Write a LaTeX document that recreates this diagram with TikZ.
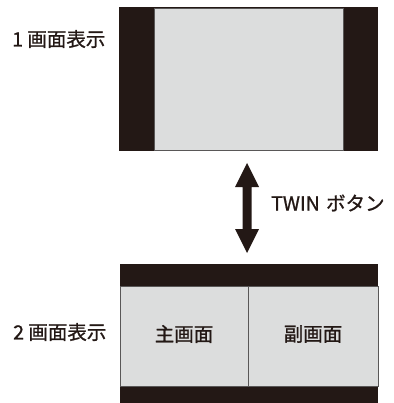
\documentclass[tikz,border=0pt]{standalone}
\usepackage{fontspec}
\setmainfont{Noto Sans CJK JP}
\newfontfamily\medfont{Noto Sans CJK JP}[UprightFeatures={FakeBold=1.0}]
\definecolor{scrblack}{HTML}{231815}
\definecolor{scrgray}{HTML}{DCDDDD}
\definecolor{scredge}{HTML}{595757}
\begin{document}
\begin{tikzpicture}[x=1pt,y=-1pt,
  bar/.style={fill=scrblack,draw=none},
  pane/.style={fill=scrgray,draw=scredge,line width=0.8pt},
  lbl/.style={font=\medfont\fontsize{19.5}{22}\selectfont,text=scrblack,inner sep=0pt}]
\useasboundingbox (0,0) rectangle (393,403);
% top screen (1 画面表示)
\fill[bar] (119,7) rectangle (378,151);
\draw[pane] (154,8) rectangle (343,150);
% bottom screen (2 画面表示)
\fill[bar] (120,264) rectangle (378,403);
\draw[pane] (120,286) rectangle (248,386);
\draw[pane] (248,286) rectangle (378,386);
\node[lbl] (main) at (184,334) {主画面};
\node[lbl] (sub) at (313,334) {副画面};
% labels
\node[lbl,anchor=west] (one) at (12,39) {1 画面表示};
\node[lbl,anchor=west] (two) at (13,332) {2 画面表示};
% arrow
\coordinate (atop) at (247,163);
\coordinate (abot) at (247,253);
\fill[scrblack] (atop) -- (259,187) -- (251.5,187) -- (251.5,229) -- (259,229) -- (abot) -- (235,229) -- (242.5,229) -- (242.5,187) -- (235,187) -- cycle;
\node[lbl,anchor=west] (twin) at (271,203) {TWIN\hspace{0.1em} ボタン};
\end{tikzpicture}
\end{document}
